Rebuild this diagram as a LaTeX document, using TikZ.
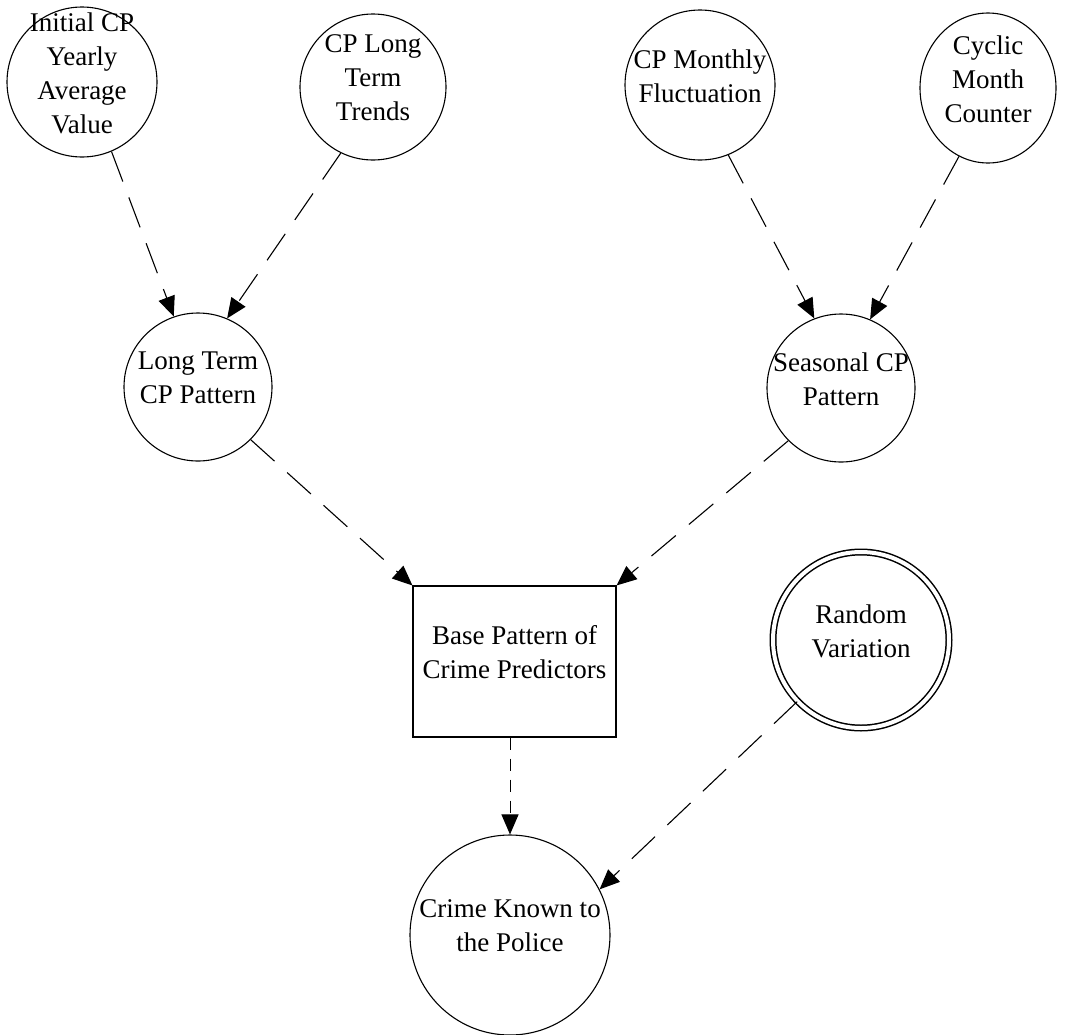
\documentclass[tikz,border=0pt]{standalone}
\usepackage{fontspec}
\setmainfont{Liberation Serif}
\usetikzlibrary{arrows.meta,calc,shapes.geometric}
\begin{document}
\begin{tikzpicture}[x=1pt,y=-1pt,
  every node/.style={font=\fontsize{27}{34}\selectfont},
  var/.style={circle, draw, line width=1.1pt, inner sep=0pt, minimum size=#1},
  ovalvar/.style={ellipse, draw, line width=1.1pt, inner sep=0pt,
                  minimum width=136pt, minimum height=150pt},
  lbl/.style={align=center, inner sep=0pt, yshift=9pt},
  basebox/.style={rectangle, draw, line width=1.1pt, inner sep=0pt,
                  minimum width=203pt, minimum height=151pt},
  noise/.style={circle, draw, double, line width=1.5pt, double distance=4pt,
                inner sep=0pt, minimum size=176pt},
  flow/.style={-{Triangle[length=20pt,width=17pt]}, line width=1.1pt,
               dash pattern=on 32pt off 17pt},
  flowfine/.style={-{Triangle[length=20pt,width=17pt]}, line width=1pt,
               dash pattern=on 12pt off 9pt}
]
\useasboundingbox (0,0) rectangle (1066,1034);

% inputs
\node[var=150pt, label={[lbl]center:{Initial CP\\Yearly\\Average\\Value}}] (init) at (82,82) {};
\node[var=146pt, label={[lbl]center:{CP Long\\Term\\Trends}}] (trend) at (373,87) {};
\node[var=150pt, label={[lbl]center:{CP Monthly\\Fluctuation}}] (mon) at (700,85) {};
\node[ovalvar, label={[lbl]center:{Cyclic\\Month\\Counter}}] (cyc) at (988,88) {};

% intermediate patterns
\node[var=148pt, label={[lbl]center:{Long Term\\CP Pattern}}] (lt) at (198,387) {};
\node[var=148pt, label={[lbl]center:{Seasonal CP\\Pattern}}] (seas) at (841,388) {};

% base pattern and output
\node[basebox, label={[lbl]center:{Base Pattern of\\Crime Predictors}}] (base) at (514.5,661.5) {};
\node[noise, label={[lbl]center:{Random\\Variation}}] (rand) at (861,640) {};
\node[var=200pt, label={[lbl]center:{Crime Known to\\the Police}}] (crime) at (510,935) {};

% influences
\draw[flow] (init.-67) -- (lt.109);
\draw[flow] (trend.-116) -- (lt.67);
\draw[flow] (mon.-68) -- (seas.111);
\draw[flow] (cyc.-113) -- (seas.67);
\draw[flow] (lt.-45) -- (base.north west);
\draw[flow] (seas.225) -- (base.north east);
\draw[flowfine] (crime.north |- base.south) -- (crime.north);
\draw[flow] (rand.224) -- (crime.27);
\end{tikzpicture}
\end{document}
